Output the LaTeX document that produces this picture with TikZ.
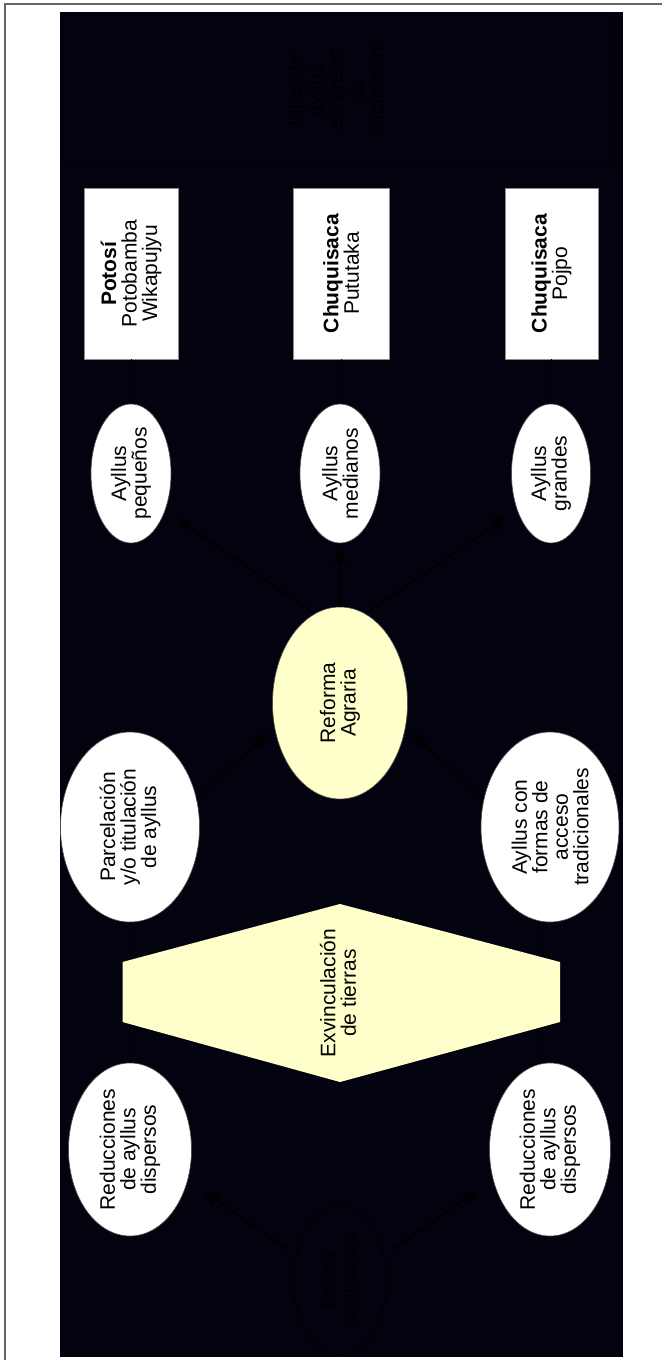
\documentclass[tikz,border=0pt]{standalone}
\usepackage{fontspec}
\setmainfont{Liberation Sans}
\usetikzlibrary{arrows.meta,shapes.geometric,calc}
\definecolor{bgdark}{HTML}{03030F}
\definecolor{paleyellow}{HTML}{FFFFCC}
\begin{document}
\begin{tikzpicture}[x=1pt,y=-1pt,
  txt/.style={rotate=90, align=center, inner sep=0pt, font=\fontsize{21}{20.5}\selectfont, text=black},
  ell/.style={ellipse, draw=black!70, line width=0.6pt, fill=white, inner sep=0pt},
  yell/.style={ellipse, draw=black!70, line width=0.6pt, fill=paleyellow, inner sep=0pt},
  boxw/.style={rectangle, draw=black!45, line width=0.8pt, fill=white, inner sep=0pt, minimum height=171pt},
  conn/.style={draw=black, line width=0.9pt},
  arr/.style={draw=black, line width=1.8pt, -{Triangle[length=14pt,width=13pt]}},
]
\useasboundingbox (0,0) rectangle (662,1360);
\fill[white] (0,0) rectangle (662,1360);
\draw[black!60, line width=1.2pt] (5,1360) -- (5,4) -- (662,4);
\fill[bgdark] (60,12) rectangle (623,1357);

% top hidden box
\node[draw=black, line width=1pt, minimum width=550pt, minimum height=151pt, inner sep=0pt] (isl) at (338,90.5) {};
\node[txt] (islt) at (335,90) {Islas de\\ayllus\\en áreas\\de\\haciendas};

% white boxes
\node[boxw, minimum width=94pt] (b1) at (131,273.5) {};
\node[txt] (b1t) at (b1) {\textbf{Potosí}\\Potobamba\\Wikapujyu};
\node[boxw, minimum width=96pt] (b2) at (341,273.5) {};
\node[txt] (b2t) at (b2) {\textbf{Chuquisaca}\\Pututaka};
\node[boxw, minimum width=93pt] (b3) at (551.5,273.5) {};
\node[txt] (b3t) at (b3) {\textbf{Chuquisaca}\\Pojpo};

% ayllus ellipses
\node[ell, minimum width=80pt, minimum height=139pt] (peq) at (131,473.5) {};
\node[txt] (peqt) at (peq) {Ayllus\\pequeños};
\node[ell, minimum width=80pt, minimum height=139pt] (med) at (340,473.5) {};
\node[txt] (medt) at (med) {Ayllus\\medianos};
\node[ell, minimum width=79pt, minimum height=139pt] (gra) at (551,473.5) {};
\node[txt] (grat) at (gra) {Ayllus\\grandes};

% reforma
\node[yell, minimum width=135pt, minimum height=192pt] (ref) at (340,703) {};
\node[txt] (reft) at (ref) {Reforma\\Agraria};

% middle ellipses
\node[ell, minimum width=139pt, minimum height=190pt] (par) at (130,827) {};
\node[txt] (part) at (par) {Parcelación\\y/o titulación\\de ayllus};
\node[ell, minimum width=138pt, minimum height=190pt] (acf) at (550,827) {};
\node[txt] (acft) at (acf) {Ayllus con\\formas de\\acceso\\tradicionales};

% reducciones
\node[ell, minimum width=123pt, minimum height=173pt] (red1) at (130,1149.5) {};
\node[txt] (red1t) at (red1) {Reducciones\\de ayllus\\dispersos};
\node[ell, minimum width=121pt, minimum height=173pt] (red2) at (550,1149.5) {};
\node[txt] (red2t) at (red2) {Reducciones\\de ayllus\\dispersos};

% indios
\node[ellipse, draw=black, line width=1pt, inner sep=0pt, minimum width=93pt, minimum height=149pt] (ind) at (340,1280.5) {};
\node[txt] (indt) at (ind) {Indios\\originarios};

% connectors
\draw[conn] (b1.south) -- (b1.south |- peq.north);
\draw[conn] (b2.south) -- (b2.south |- med.north);
\draw[conn] (b3.south) -- (b3.south |- gra.north);
\draw[conn] (par.south) -- (par.south |- red1.north);
\draw[conn] ([xshift=-7pt]acf.south) -- ([xshift=-7pt]acf.south |- red2.north);

\draw[arr, shorten >=14pt] (ref.106) -- (peq.-47);
\draw[arr, shorten >=5pt] (ref.north) -- (med.south);
\draw[arr, shorten >=13pt] (ref.74) -- (gra.-133);
\draw[arr, shorten >=9pt] (par.23) -- (ref.200);
\draw[arr, shorten >=9pt] (acf.157) -- (ref.-20);
\draw[arr, shorten <=10pt, shorten >=20pt] (ind.150) -- (red1.-28);
\draw[arr, shorten <=10pt, shorten >=20pt] (ind.30) -- (red2.-152);

% hexagon
\fill[paleyellow] (340,904) -- (560,962) -- (560,1022) -- (340,1082) -- (122.5,1022) -- (122.5,962) -- cycle;
\node[txt] (hext) at (338,993) {Exvinculación\\de tierras};
\end{tikzpicture}
\end{document}
